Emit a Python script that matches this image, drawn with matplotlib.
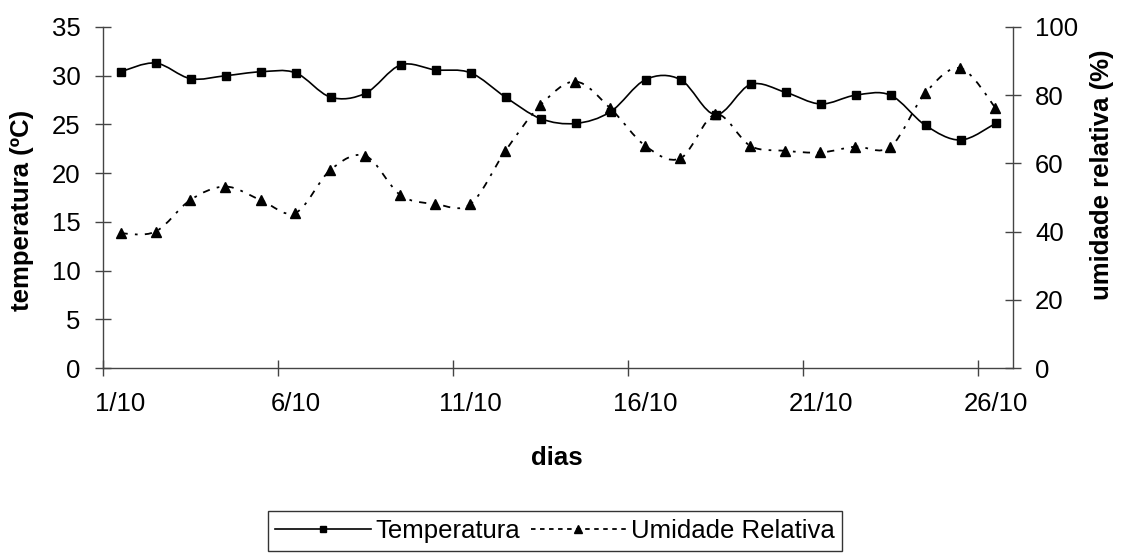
import matplotlib
matplotlib.use('Agg')
import matplotlib.pyplot as plt
from matplotlib.path import Path
from matplotlib.patches import PathPatch
from matplotlib.lines import Line2D
import numpy as np

plt.rcParams['font.family'] = ['Liberation Sans', 'DejaVu Sans']

# dados
dias = list(range(1, 27))
rotulos = ['1/10', '6/10', '11/10', '16/10', '21/10', '26/10']
temperatura = [30.4, 31.3, 29.7, 30.0, 30.4, 30.3, 27.8, 28.2, 31.1, 30.6,
               30.3, 27.8, 25.6, 25.1, 26.3, 29.6, 29.6, 26.0, 29.1, 28.3,
               27.1, 28.0, 28.0, 24.9, 23.4, 25.1]
umidade = [39.5, 40.0, 49.3, 53.2, 49.3, 45.5, 58.1, 62.2, 50.7, 48.1,
           48.1, 63.7, 77.1, 84.0, 76.1, 65.1, 61.5, 74.4, 65.1, 63.7,
           63.2, 64.9, 64.9, 80.7, 87.9, 76.3]


def curva_suave(x, y):
    # linha suavizada tipo Excel (bezier cubica pelos pontos)
    p = np.column_stack([x, y]).astype(float)
    n = len(p)
    verts = [p[0]]
    codes = [Path.MOVETO]
    for i in range(n - 1):
        p0 = p[i - 1] if i > 0 else p[i]
        p3 = p[i + 2] if i + 2 < n else p[i + 1]
        c1 = p[i] + (p[i + 1] - p0) / 6
        c2 = p[i + 1] - (p3 - p[i]) / 6
        verts += [c1, c2, p[i + 1]]
        codes += [Path.CURVE4] * 3
    return Path(verts, codes)


fig = plt.figure(figsize=(11.23, 5.56), dpi=100)
ax = fig.add_axes([103 / 1123, 1 - 368 / 556, 910 / 1123, 341 / 556])
ax2 = ax.twinx()

traco = (0, (4, 4, 1.5, 4))

ax.add_patch(PathPatch(curva_suave(dias, temperatura), fill=False,
                       edgecolor='black', lw=1.2))
ax.plot(dias, temperatura, ls='none', marker='s', ms=6, color='black')

ax2.add_patch(PathPatch(curva_suave(dias, umidade), fill=False,
                        edgecolor='black', lw=1.3, linestyle=traco))
ax2.plot(dias, umidade, ls='none', marker='^', ms=7.5, color='black')

ax.set_xlim(0.5, 26.5)
ax.set_ylim(0, 35)
ax2.set_ylim(0, 100)

ax.set_yticks(range(0, 36, 5))
ax2.set_yticks(range(0, 101, 20))
ax.set_xticks(np.arange(0.5, 26, 5))
ax.set_xticklabels([])
ax.set_xticks(dias[::5], minor=True)
ax.set_xticklabels(rotulos, minor=True)

fs = 18.5
cor_eixo = '#444444'
ax.tick_params(axis='x', which='major', direction='inout', length=12,
               width=1, color=cor_eixo)
ax.tick_params(axis='x', which='minor', length=0, pad=17, labelsize=fs)
ax.tick_params(axis='y', direction='inout', length=12, width=1, color=cor_eixo,
               pad=10, labelsize=fs)
ax2.tick_params(axis='y', direction='inout', length=12, width=1, color=cor_eixo,
                pad=10, labelsize=fs)

for a in (ax, ax2):
    a.spines['top'].set_visible(False)
    for s in ('left', 'right', 'bottom'):
        a.spines[s].set_color(cor_eixo)
        a.spines[s].set_linewidth(1)
ax.spines['right'].set_visible(False)
ax2.spines['left'].set_visible(False)
ax2.spines['bottom'].set_visible(False)

fig.text(22 / 1123, 1 - 210 / 556, 'temperatura (ºC)', rotation=90,
         ha='center', va='center', fontsize=fs, fontweight='bold')
fig.text(1102 / 1123, 1 - 175 / 556, 'umidade relativa (%)', rotation=90,
         ha='center', va='center', fontsize=fs, fontweight='bold')
fig.text(557 / 1123, 1 - 458 / 556, 'dias', ha='center', va='center',
         fontsize=fs, fontweight='bold')

alcas = [Line2D([], [], color='black', lw=1.2, marker='s', ms=5),
         Line2D([], [], color='black', lw=1.3, ls=(0, (2.5, 2.5)), marker='^', ms=6)]
leg = fig.legend(alcas, ['Temperatura', 'Umidade Relativa'], ncol=2,
                 loc='center', bbox_to_anchor=(555 / 1123, 1 - 531 / 556),
                 fontsize=fs, frameon=True, fancybox=False, handlelength=3.7,
                 handletextpad=0.2, columnspacing=0.4, borderpad=0.3,
                 borderaxespad=0)
leg.get_frame().set_edgecolor('black')
leg.get_frame().set_linewidth(1)

fig.savefig('out.png', dpi=100)
